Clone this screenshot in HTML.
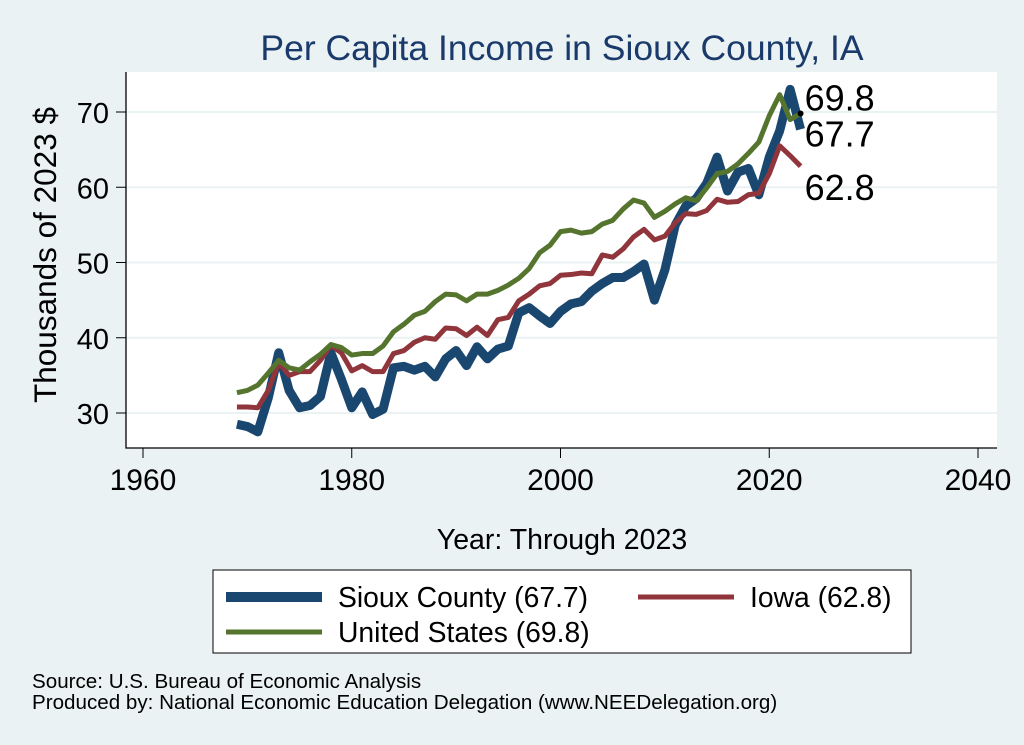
<!DOCTYPE html>
<html><head><meta charset="utf-8"><style>
body{margin:0;background:#eaf2f3;}
svg{display:block;font-family:"Liberation Sans",Arial,sans-serif;}
</style></head><body>
<svg id="c" width="1024" height="745" viewBox="0 0 1024 745">
<rect x="0" y="0" width="1024" height="745" fill="#eaf2f3"/>
<text x="562" y="60" text-anchor="middle" font-size="35.5" fill="#1a3a6b">Per Capita Income in Sioux County, IA</text>
<rect x="126" y="72" width="871" height="376" fill="#fff"/>
<g id="grid"></g>
<g id="series"></g>
<g id="axes"></g>
<text transform="translate(56,255) rotate(-90)" text-anchor="middle" font-size="31.5" fill="#000">Thousands of 2023 $</text>
<text x="562" y="549" text-anchor="middle" font-size="28.5" fill="#000">Year: Through 2023</text>
<g>
<rect x="213" y="570" width="698" height="83" fill="#fff" stroke="#000" stroke-width="1"/>
<line x1="226" y1="597" x2="322" y2="597" stroke="#1a476f" stroke-width="10"/>
<text x="338" y="607" font-size="28.3">Sioux County (67.7)</text>
<line x1="638" y1="597" x2="734" y2="597" stroke="#90353b" stroke-width="5"/>
<text x="750" y="607" font-size="28.3">Iowa (62.8)</text>
<line x1="226" y1="632" x2="322" y2="632" stroke="#55752f" stroke-width="5"/>
<text x="338" y="642" font-size="28.3">United States (69.8)</text>
</g>
<text x="32" y="688" font-size="20.6">Source: U.S. Bureau of Economic Analysis</text>
<text x="32" y="709" font-size="20.6">Produced by: National Economic Education Delegation (www.NEEDelegation.org)</text>
</svg>
<script>
const years=[];for(let y=1969;y<=2023;y++)years.push(y);
const sioux=[28.5,28.2,27.5,32,38,33,30.7,31,32.2,38,34.5,30.7,32.8,29.8,30.5,36,36.2,35.7,36.2,34.8,37.2,38.3,36.3,38.8,37.2,38.5,38.9,43.3,44,42.9,41.9,43.5,44.5,44.8,46.2,47.2,48,48,48.8,49.8,45,49,55,57.5,58.5,60.5,64,59.5,62,62.5,59,64,67.5,73,67.7];
const iowa=[30.8,30.8,30.7,33,36.7,35,35.5,35.5,37,39,38,35.6,36.3,35.5,35.5,37.9,38.3,39.4,40,39.8,41.3,41.2,40.3,41.4,40.3,42.4,42.7,44.9,45.8,46.9,47.2,48.3,48.4,48.6,48.5,51,50.7,51.8,53.4,54.4,53,53.5,55.3,56.5,56.4,56.9,58.4,58,58.1,59,59.2,61.8,65.5,64.2,62.8];
const us=[32.7,33,33.7,35.3,37,36,35.7,36.8,37.8,39.1,38.7,37.7,37.9,37.9,38.9,40.8,41.8,43,43.5,44.8,45.8,45.7,44.9,45.8,45.8,46.3,47,47.9,49.2,51.3,52.3,54.1,54.3,53.9,54.1,55.1,55.6,57.1,58.3,57.9,56,56.8,57.8,58.6,58.2,59.9,61.8,62.1,63.1,64.5,66,69.5,72.3,69,69.8];
const xTicks=[1960,1980,2000,2020,2040];
const yTicks=[30,40,50,60,70];
const NS="http://www.w3.org/2000/svg";
const xs=v=>143+(v-1960)*(978-143)/80;
const ys=v=>413-(v-30)*(413-112)/40;
function mk(t,a,p){const e=document.createElementNS(NS,t);for(const k in a)e.setAttribute(k,a[k]);p.appendChild(e);return e;}
const grid=document.getElementById('grid'),axes=document.getElementById('axes'),ser=document.getElementById('series');
yTicks.forEach(v=>{
 const g=mk('line',{x1:126,x2:997,y1:ys(v),y2:ys(v),stroke:'#eaf2f3','stroke-width':2},grid);
 
 
 const t=mk('line',{x1:116,x2:126,y1:ys(v),y2:ys(v),stroke:'#000','stroke-width':1},axes);
 
 
 const l=mk('text',{x:109,y:ys(v)+11,'text-anchor':'end','font-size':29},axes);l.textContent=v;
 
 
});
xTicks.forEach(v=>{
 const t=mk('line',{x1:xs(v),x2:xs(v),y1:448,y2:458,stroke:'#000','stroke-width':1},axes);
 
 
 const l=mk('text',{x:xs(v),y:490,'text-anchor':'middle','font-size':30},axes);l.textContent=v;
 
 
});
const ax=mk('path',{d:'M126 72 V448 H997',fill:'none',stroke:'#000','stroke-width':1.3},axes);


function line(d,c,w,n){const p=mk('polyline',{points:d.map((v,i)=>xs(years[i])+','+ys(v)).join(' '),fill:'none',stroke:c,'stroke-width':w,'stroke-linejoin':'round'},ser);
 
 }
line(sioux,'#1a476f',9,'line-sioux-county');
line(iowa,'#90353b',5,'line-iowa');
line(us,'#55752f',5,'line-united-states');
const last=years.length-1;
const dot=mk('circle',{cx:xs(years[last]),cy:ys(us[last]),r:3,fill:'#000'},ser);


[[us[last],-3,'label-us'],[sioux[last],17,'label-sioux'],[iowa[last],34,'label-iowa']].forEach(([v,dy,n])=>{
 const t=mk('text',{x:xs(years[last])+4,y:ys(v)+dy,'font-size':36},ser);t.textContent=v.toFixed(1);
 
 
});
</script>
</body></html>
